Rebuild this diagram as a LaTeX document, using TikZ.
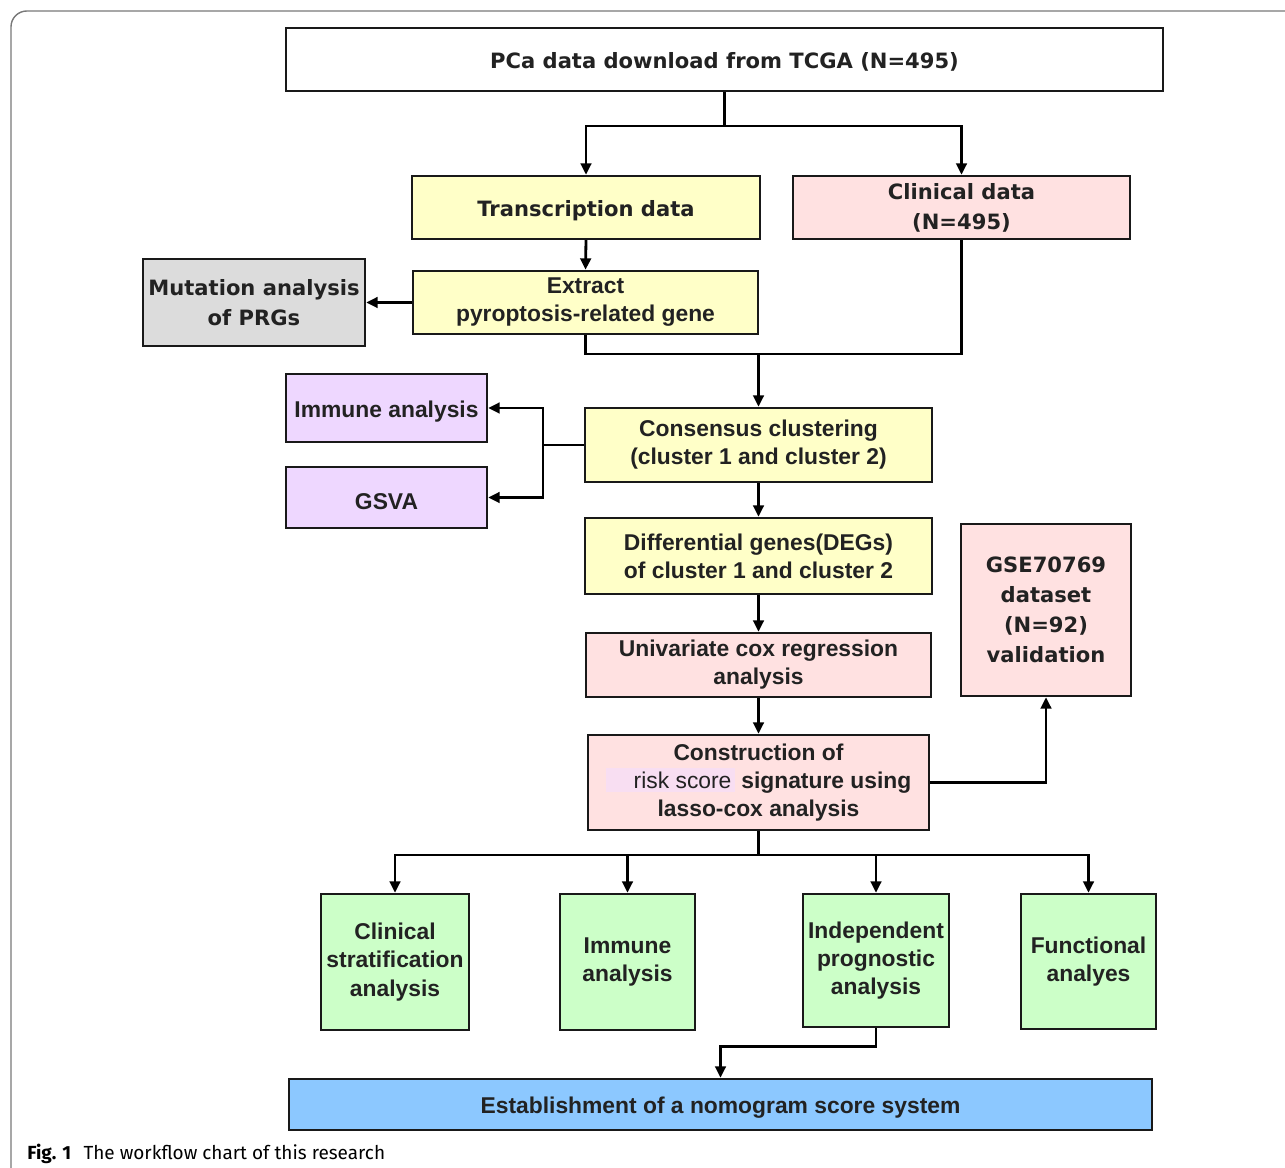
\documentclass[tikz,border=0pt]{standalone}
\usepackage{fontspec}
\setmainfont{Liberation Sans}
\newfontfamily\grande{DejaVu Sans}
\newfontfamily\capfont{Fira Sans}
\usetikzlibrary{arrows.meta}

\definecolor{ink}{RGB}{34, 34, 34}
\definecolor{yel}{RGB}{255, 255, 200}
\definecolor{pnk}{RGB}{255, 225, 225}
\definecolor{gry}{RGB}{220, 220, 220}
\definecolor{lav}{RGB}{238, 215, 255}
\definecolor{grn}{RGB}{204, 255, 200}
\definecolor{blu}{RGB}{140, 200, 255}
\definecolor{riskbg}{RGB}{248, 222, 242}
\definecolor{frame}{RGB}{120, 120, 120}

\tikzset{
  box/.style={draw=black!90, line width=1.4pt, inner sep=0pt, align=center,
    text=ink, font=\bfseries\fontsize{13}{16}\selectfont,
    execute at begin node={\rule{0pt}{1.03em}}},
  gbox/.style={box, font=\grande\bfseries\fontsize{12}{17}\selectfont},
  wh/.style 2 args={minimum width=#1*0.02cm, minimum height=#2*0.02cm},
  link/.style={line width=1.6pt, black},
  arr/.style={link, -{Triangle[length=6.5pt, width=6pt]}},
}

\begin{document}
\begin{tikzpicture}[x=0.02cm, y=-0.02cm]
  \useasboundingbox (0,0) rectangle (1285,1168);
  \draw[frame, line width=0.8pt, rounded corners=9pt] (11,1190) -- (11,11) -- (1310,11);

  \node[gbox, fill=white, wh={877}{63}] (tcga) at (724.5,59.5) {PCa data download from TCGA (N=495)};
  \node[gbox, fill=yel, wh={348}{63}] (trans) at (586,207.5) {Transcription data};
  \node[gbox, fill=pnk, wh={337}{63}] (clin) at (961.5,207.5) {Clinical data\\(N=495)};
  \node[box, fill=yel, wh={345}{63}] (extr) at (585.5,302.5) {Extract\\pyroptosis-related gene};
  \node[gbox, fill=gry, wh={222}{87}] (mut) at (254,302.5) {Mutation analysis\\of PRGs};
  \node[box, fill=lav, wh={201}{68}] (imm) at (386.5,408) {Immune analysis};
  \node[box, fill=lav, wh={201}{61}] (gsva) at (386.5,497.5) {GSVA};
  \node[box, fill=yel, wh={347}{74}] (cons) at (758.5,445) {Consensus clustering\\(cluster 1 and cluster 2)};
  \node[box, fill=yel, wh={347}{76}] (degs) at (758.5,556) {Differential genes(DEGs)\\of cluster 1 and cluster 2};
  \node[box, fill=pnk, wh={345}{64}] (unic) at (758.5,665) {Univariate cox regression\\analysis};
  \node[gbox, fill=pnk, wh={170}{172}] (gse) at (1046,610) {GSE70769\\dataset\\(N=92)\\validation};
  \node[box, fill=pnk, wh={341}{95}] (lasso) at (758.5,782.5)
       {Construction of\\{\setlength{\fboxsep}{2pt}\colorbox{riskbg}{\hspace{14pt}\mdseries risk score}} signature using\\lasso-cox analysis};
  \node[box, fill=grn, wh={148}{136}] (strat) at (395,962) {Clinical\\stratification\\analysis};
  \node[box, fill=grn, wh={135}{136}] (immg) at (627.5,962) {Immune\\analysis};
  \node[box, fill=grn, wh={146}{133}] (indep) at (876,960.5) {Independent\\prognostic\\analysis};
  \node[box, fill=grn, wh={135}{135}] (func) at (1088.5,961.5) {Functional\\analyes};
  \node[box, fill=blu, wh={863}{51}] (nomo) at (720.5,1104.5) {Establishment of a nomogram score system};

  \coordinate (split) at (724.5,126);
  \coordinate (join) at (758.5,354);
  \coordinate (fork) at (543,445);
  \coordinate (bus) at (758.5,855);

  \draw[link] (tcga.south) -- (split);
  \draw[arr] (split) -| (trans.north);
  \draw[arr] (split) -| (clin.north);
  \draw[arr] (trans.south) -- (extr.north);
  \draw[arr] (extr.west) -- (mut.east);
  \draw[link] (extr.south) |- (join) -| (clin.south);
  \draw[arr] (join) -- (cons.north);
  \draw[link] (cons.west) -- (fork);
  \draw[arr] (fork) |- (imm.east);
  \draw[arr] (fork) |- (gsva.east);
  \draw[arr] (cons.south) -- (degs.north);
  \draw[arr] (degs.south) -- (unic.north);
  \draw[arr] (unic.south) -- (lasso.north);
  \draw[arr] (lasso.east) -| (gse.south);
  \draw[link] (lasso.south) -- (bus);
  \draw[arr] (bus) -| (strat.north);
  \draw[arr] (bus) -| (immg.north);
  \draw[arr] (bus) -| (indep.north);
  \draw[arr] (bus) -| (func.north);
  \draw[arr] (indep.south) -- ++(0,18) -| (nomo.north);

  \node[anchor=base west, inner sep=0pt, font=\capfont\fontsize{10.8}{13}\selectfont] (cap) at (27,1159)
       {\textbf{Fig. 1}\hspace{7pt}The workflow chart of this research};
\end{tikzpicture}
\end{document}
